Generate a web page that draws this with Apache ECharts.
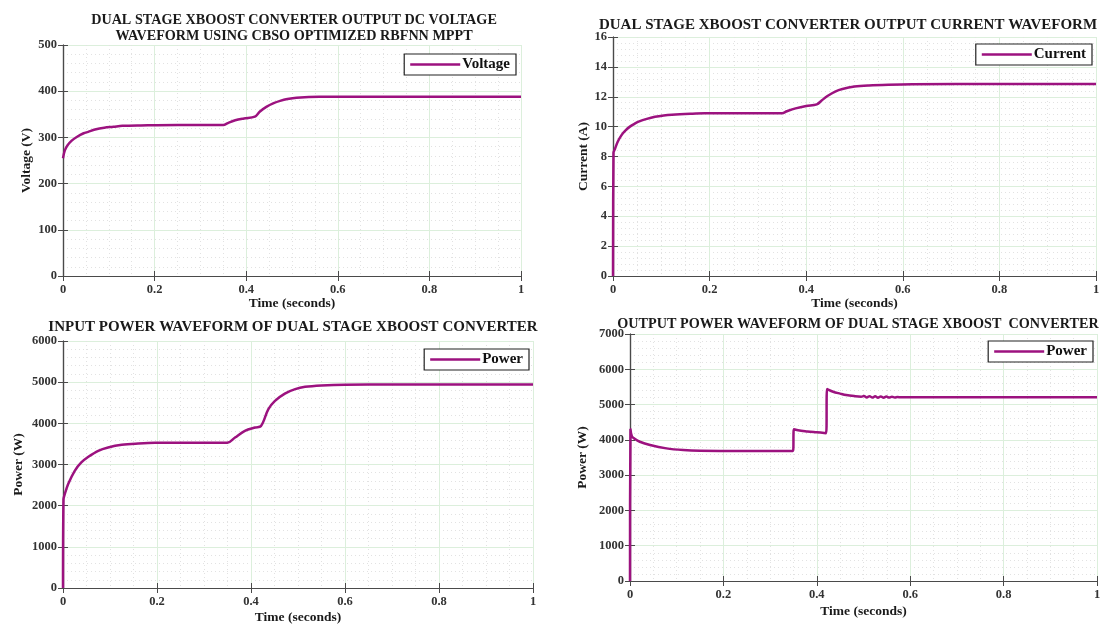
<!DOCTYPE html>
<html>
<head>
<meta charset="utf-8">
<script src="https://cdn.jsdelivr.net/npm/echarts@6/dist/echarts.min.js"></script>
<style>
html,body{margin:0;padding:0;background:#fff;}
#c{width:1105px;height:626px;}
</style>
</head>
<body>
<div id="c"></div>
<script>
// ---- Data ----
const xTicks = [0, 0.2, 0.4, 0.6, 0.8, 1];

const timeV   = [0, 0.004, 0.01, 0.019, 0.03, 0.045, 0.055, 0.07, 0.09, 0.11, 0.13, 0.17, 0.25, 0.35, 0.36, 0.376, 0.395, 0.419, 0.43, 0.444, 0.46, 0.474, 0.49, 0.51, 0.56, 0.62, 0.8, 1.0];
const voltage = [255, 272, 283, 293, 301, 309, 312, 317, 321, 323, 325, 326, 327, 327, 331, 337, 341, 345, 356, 366, 374, 379, 383, 386, 388, 388, 388, 388];

const timeI   = [0, 0.001, 0.004, 0.01, 0.018, 0.026, 0.035, 0.045, 0.053, 0.07, 0.087, 0.105, 0.122, 0.16, 0.19, 0.35, 0.36, 0.378, 0.4, 0.422, 0.432, 0.444, 0.46, 0.475, 0.5, 0.53, 0.57, 0.62, 0.8, 1.0];
const current = [0, 8.25, 8.5, 9.0, 9.45, 9.75, 10.0, 10.2, 10.33, 10.52, 10.66, 10.75, 10.8, 10.86, 10.89, 10.9, 11.03, 11.22, 11.38, 11.49, 11.75, 12.05, 12.35, 12.52, 12.68, 12.76, 12.81, 12.84, 12.85, 12.85];

const timePin = [0, 0.001, 0.003, 0.011, 0.025, 0.039, 0.054, 0.075, 0.096, 0.125, 0.16, 0.196, 0.35, 0.366, 0.387, 0.409, 0.421, 0.437, 0.451, 0.472, 0.494, 0.515, 0.55, 0.6, 0.7, 1.0];
const powerIn = [0, 2150, 2250, 2524, 2847, 3049, 3187, 3333, 3413, 3478, 3510, 3527, 3530, 3655, 3818, 3900, 3932, 4345, 4546, 4723, 4830, 4886, 4920, 4940, 4945, 4945];

const timePout = [0, 0.001, 0.004, 0.01, 0.021, 0.043, 0.078, 0.114, 0.15, 0.25, 0.349, 0.351, 0.36, 0.38, 0.4, 0.42, 0.422, 0.435, 0.45, 0.463, 0.48, 0.495, 0.501, 0.507, 0.513, 0.519, 0.525, 0.531, 0.537, 0.543, 0.549, 0.555, 0.561, 0.567, 0.573, 0.58, 0.6, 1.0];
const powerOut = [0, 4300, 4100, 4030, 3946, 3853, 3759, 3711, 3692, 3685, 3685, 4300, 4270, 4240, 4215, 4190, 5440, 5363, 5310, 5269, 5240, 5225, 5240, 5200, 5238, 5198, 5235, 5196, 5232, 5196, 5228, 5198, 5222, 5200, 5215, 5205, 5205, 5205];

const titles = [
  'DUAL STAGE XBOOST CONVERTER OUTPUT DC VOLTAGE\nWAVEFORM USING CBSO OPTIMIZED RBFNN MPPT',
  'DUAL STAGE XBOOST CONVERTER OUTPUT CURRENT WAVEFORM',
  'INPUT POWER WAVEFORM OF DUAL STAGE XBOOST CONVERTER',
  'OUTPUT POWER WAVEFORM OF DUAL STAGE XBOOST  CONVERTER'
];
const yNames = ['Voltage (V)', 'Current (A)', 'Power (W)', 'Power (W)'];
const seriesNames = ['Voltage', 'Current', 'Power', 'Power'];
const yMax = [500, 16, 6000, 7000];
const yInt = [100, 2, 1000, 1000];

// ---- Layout / style ----
const FONT = '"Liberation Serif", "DejaVu Serif", serif';
const LINE = '#9c127f';
const grids = [
  {left: 63, top: 45, width: 458, height: 231},
  {left: 613, top: 37, width: 483, height: 239},
  {left: 63, top: 341, width: 470, height: 247},
  {left: 630, top: 334, width: 467, height: 247}
];
const titlePos = [
  {left: 289, top: 7, size: 14.2},
  {left: 843, top: 12, size: 15},
  {left: 288, top: 314, size: 15},
  {left: 853, top: 311, size: 14.2}
];
const yNameGap = [29, 22, 37, 40];
const xNameGap = [21, 21, 23, 24];
const legendPos = [
  {right: 1105 - 516, top: 54},
  {right: 1105 - 1092, top: 44},
  {right: 1105 - 529, top: 349},
  {right: 1105 - 1093, top: 341}
];
const dataSets = [[timeV, voltage], [timeI, current], [timePin, powerIn], [timePout, powerOut]];

const zip = (a, b) => a.map((v, i) => [v, b[i]]);

const axisLine = {show: true, lineStyle: {color: '#4a4a4a', width: 1.2}};
const axisTick = {show: true, inside: true, length: 5, lineStyle: {color: '#4a4a4a'}};
const splitLine = {show: true, lineStyle: {color: '#dcefdc', width: 1}};
const minorSplitLine = {show: true, lineStyle: {color: '#e2e2e2', type: [1, 3], width: 1}};
const lbl = {fontFamily: FONT, fontWeight: 'bold', fontSize: 12.5, color: '#333'};
const nameStyle = {fontFamily: FONT, fontWeight: 'bold', fontSize: 13.5, color: '#1a1a1a'};

const option = {
  backgroundColor: '#fff',
  animation: false,
  title: [], grid: [], xAxis: [], yAxis: [], series: [], legend: []
};

for (let i = 0; i < 4; i++) {
  option.grid.push(Object.assign({containLabel: false}, grids[i]));
  option.title.push({
    text: titles[i], left: titlePos[i].left, top: titlePos[i].top, textAlign: 'center',
    textStyle: {fontFamily: FONT, fontWeight: 'bold', fontSize: titlePos[i].size, color: '#1a1a1a', lineHeight: 16}
  });
  option.xAxis.push({
    type: 'value', gridIndex: i, min: 0, max: 1, interval: 0.2, position: 'bottom',
    name: 'Time (seconds)', nameLocation: 'middle', nameGap: xNameGap[i], nameTextStyle: nameStyle,
    axisLine, axisTick, splitLine, minorTick: {show: false, splitNumber: 4}, minorSplitLine,
    axisLabel: Object.assign({margin: 7, formatter: v => String(+(+v).toFixed(1))}, lbl)
  });
  option.xAxis.push({
    type: 'value', gridIndex: i, min: 0, max: 1, interval: 0.2, position: 'top',
    axisLine, axisTick, splitLine: {show: false}, axisLabel: {show: false}
  });
  option.yAxis.push({
    type: 'value', gridIndex: i, min: 0, max: yMax[i], interval: yInt[i], position: 'left',
    name: yNames[i], nameLocation: 'middle', nameGap: yNameGap[i], nameRotate: 90, nameTextStyle: nameStyle,
    axisLine, axisTick, splitLine, minorTick: {show: false, splitNumber: 5}, minorSplitLine,
    axisLabel: Object.assign({margin: 6, formatter: v => String(v)}, lbl)
  });
  option.yAxis.push({
    type: 'value', gridIndex: i, min: 0, max: yMax[i], interval: yInt[i], position: 'right',
    axisLine, axisTick, splitLine: {show: false}, axisLabel: {show: false}
  });
  option.series.push({
    type: 'line', name: seriesNames[i], xAxisIndex: i * 2, yAxisIndex: i * 2,
    data: zip(dataSets[i][0], dataSets[i][1]),
    showSymbol: false, symbol: 'none', smooth: 0.35,
    lineStyle: {color: LINE, width: 2.5}, itemStyle: {color: LINE}
  });
  option.legend.push(Object.assign({
    data: [{name: seriesNames[i], icon: 'rect'}], orient: 'vertical',
    backgroundColor: '#fff', borderColor: '#222', borderWidth: 1.2, borderRadius: 0,
    padding: [3, 6, 3, 6], itemWidth: 50, itemHeight: 2.5, itemGap: 0,
    textStyle: {fontFamily: FONT, fontWeight: 'bold', fontSize: 15, color: '#111', padding: [0, 0, 0, -3]},
    selectedMode: false
  }, legendPos[i]));
}

const chart = echarts.init(document.getElementById('c'), null, {renderer: 'canvas'});
chart.setOption(option);
</script>
</body>
</html>
